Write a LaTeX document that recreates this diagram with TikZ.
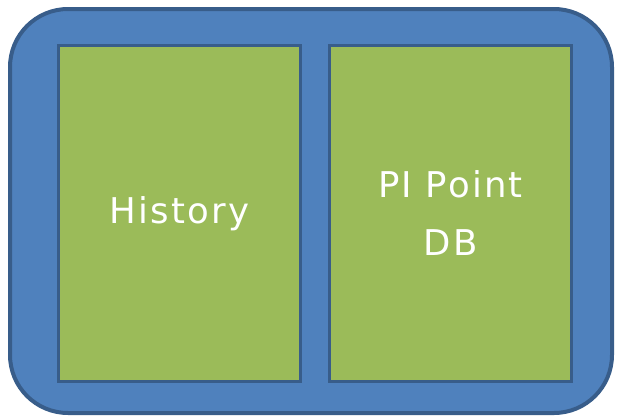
\documentclass[tikz,border=0pt]{standalone}
\usepackage{fontspec}
\setmainfont[LetterSpace=6]{DejaVu Sans}
\definecolor{outerblue}{HTML}{4F81BD}
\definecolor{edgeblue}{HTML}{385D8A}
\definecolor{boxgreen}{HTML}{9BBB59}
\tikzset{
  outerbox/.style={draw=edgeblue, fill=outerblue, line width=4pt, rounded corners=58pt},
  greenbox/.style={draw=edgeblue, fill=boxgreen, line width=3pt, text=white, font=\fontsize{35.5}{58}\selectfont, align=center, inner sep=0pt}
}
\begin{document}
\begin{tikzpicture}[x=1pt,y=-1pt]
\useasboundingbox (0,0) rectangle (619,418);
\draw[outerbox] (10,9) rectangle (612,413);
\node[greenbox, minimum width=242pt, minimum height=336pt] (hist) at (179.5,213.5) {History};
\node[greenbox, minimum width=242pt, minimum height=336pt] (pi) at (450.5,213.5) {PI Point\\DB};
\end{tikzpicture}
\end{document}
